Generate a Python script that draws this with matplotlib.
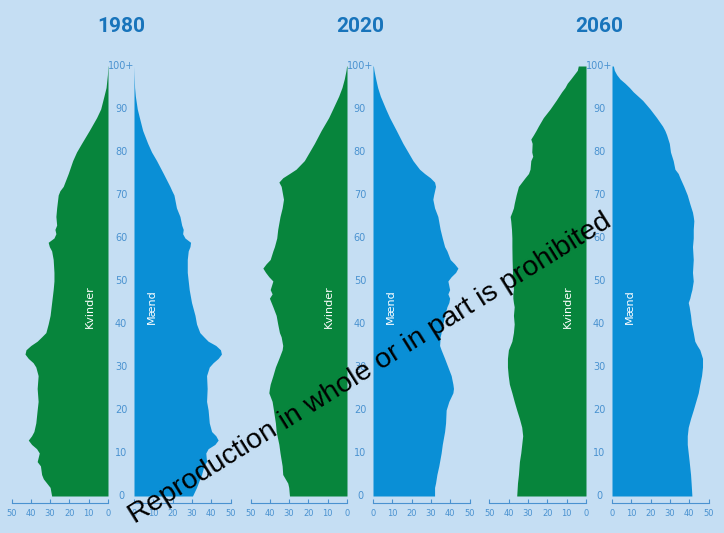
import numpy as np
import matplotlib.pyplot as plt

years = ["1980", "2020", "2060"]

ages_1980 = [0, 2, 4, 5, 7, 8, 10, 11, 12, 13, 14, 15, 17, 20, 22, 25, 28,
             30, 31, 32, 33, 34, 35, 36, 37, 38, 40, 42, 45, 48, 50, 52, 55, 57, 58, 59,
             60, 61, 62, 63, 65, 67, 70, 71, 72, 75, 78, 80, 82, 85, 88, 90, 93, 95, 98, 100]
women_1980 = [29.2, 30.0, 33.5, 34.4, 35.0, 36.7, 35.6, 37.0, 39.6, 41.3, 39.6, 38.4, 37.4,
              36.7, 36.2, 36.7, 36.2, 37.4, 38.8, 41.3, 43.0, 42.5, 40.0, 36.7, 34.4, 32.2,
              31.0, 30.0, 29.2, 28.4, 28.0, 28.0, 28.4, 29.2, 30.4, 31.0, 28.0, 27.0, 27.5,
              26.6, 27.0, 26.6, 25.8, 24.9, 23.2, 20.6, 18.3, 16.3, 13.7, 9.7, 5.9, 3.8, 2.1,
              1.0, 0.3, 0.1]
men_1980 = [30.3, 32.4, 34.1, 35.0, 36.2, 37.6, 37.2, 38.4, 41.9, 43.6, 42.4, 40.2, 39.0,
            38.4, 37.6, 37.9, 37.6, 39.0, 41.0, 43.6, 45.3, 44.8, 42.4, 38.4, 36.2, 34.1,
            32.4, 31.6, 29.8, 28.6, 28.1, 27.6, 27.6, 28.1, 29.0, 29.3, 26.4, 25.2, 25.5,
            24.7, 23.8, 22.0, 20.7, 19.6, 18.6, 15.2, 11.7, 9.1, 7.1, 4.5, 2.8, 1.7, 0.7,
            0.3, 0.1, 0.0]

ages_2020 = [0, 2, 3, 5, 7, 10, 12, 15, 17, 20, 22, 24, 25, 26, 28, 30, 32, 34, 35, 37, 38,
             40, 42, 44, 45, 46, 47, 48, 50, 51, 52, 53, 54, 55, 57, 58, 60, 62, 65, 67, 69,
             70, 72, 73, 74, 75, 76, 78, 80, 82, 85, 88, 90, 93, 95, 97, 99, 100]
women_2020 = [29.8, 30.2, 30.7, 33.3, 33.6, 34.7, 35.3, 36.7, 37.1, 38.1, 38.8, 40.5, 40.2,
              39.8, 38.4, 37.1, 35.3, 33.6, 33.3, 34.1, 35.0, 35.9, 36.7, 38.4, 39.3, 40.2,
              38.8, 39.8, 38.4, 40.5, 42.2, 43.6, 41.9, 39.8, 38.4, 37.6, 36.4, 35.9, 34.7,
              33.6, 32.9, 33.3, 34.1, 35.3, 33.3, 29.8, 26.4, 22.1, 19.5, 16.9, 13.4, 9.5,
              7.4, 4.3, 2.6, 1.4, 0.5, 0.2]
men_2020 = [31.9, 31.9, 32.4, 33.1, 34.1, 35.3, 35.9, 37.1, 37.6, 37.9, 39.3, 41.4, 41.7,
            41.4, 40.5, 38.8, 37.1, 35.3, 34.5, 34.8, 35.3, 36.2, 37.1, 38.3, 39.3, 39.7,
            38.8, 39.7, 38.8, 40.5, 42.8, 44.0, 42.2, 40.0, 38.3, 37.1, 35.9, 34.8, 33.6,
            31.9, 31.0, 31.4, 32.4, 31.9, 29.7, 26.7, 24.1, 20.7, 18.1, 15.5, 12.1, 8.6,
            6.6, 3.8, 2.4, 1.4, 0.5, 0.2]

ages_2060 = [0, 3, 5, 8, 10, 12, 14, 16, 18, 20, 22, 24, 26, 28, 30, 32, 34, 35, 36, 38,
             40, 42, 44, 45, 46, 47, 48, 50, 52, 55, 58, 60, 62, 64, 65, 66, 67, 68,
             70, 72, 74, 75, 76, 78, 79, 80, 82, 83, 84, 85, 86, 88,
             90, 92, 94, 95, 96, 97, 98, 99, 100]
women_2060 = [35.9, 35.5, 35.0, 34.5, 33.8, 33.3, 32.8, 33.3, 34.5, 35.9, 37.2, 38.4, 39.7,
              40.3, 40.7, 40.7, 40.2, 39.3, 38.4, 37.6, 37.2, 37.6, 37.2, 37.6, 37.9, 37.9,
              37.6, 37.9, 38.1, 38.3, 38.4, 38.4, 38.6, 39.0, 39.3, 38.4, 37.6, 37.2, 36.2,
              35.0, 31.6, 29.8, 29.0, 28.6, 27.6, 28.1, 27.9, 28.6, 27.2, 25.9, 24.7, 22.1,
              18.6, 15.5, 12.6, 10.9, 9.7, 7.9, 6.2, 4.5, 4.0]
men_2060 = [41.4, 41.0, 40.7, 40.0, 39.5, 39.0, 39.0, 39.5, 40.7, 42.1, 43.4, 44.7, 45.5,
            46.4, 46.9, 46.9, 45.5, 44.1, 42.9, 42.1, 41.2, 40.7, 40.0, 39.5, 40.3, 40.8,
            41.4, 42.1, 41.7, 42.1, 41.7, 42.1, 42.1, 42.4, 42.1, 41.7, 41.0, 40.3, 39.0,
            37.2, 35.2, 34.3, 32.6, 31.7, 31.0, 30.3, 29.7, 29.0, 28.3, 27.4, 26.2, 23.1,
            19.7, 15.9, 11.0, 9.0, 6.7, 4.1, 2.4, 1.2, 0.7]

age_ticks = [0, 10, 20, 30, 40, 50, 60, 70, 80, 90, 100]
age_labels = ["0", "10", "20", "30", "40", "50", "60", "70", "80", "90", "100+"]
x_ticks = [0, 10, 20, 30, 40, 50]

pyramids = [(ages_1980, women_1980, men_1980),
            (ages_2020, women_2020, men_2020),
            (ages_2060, women_2060, men_2060)]

BG = "#c5def3"
GREEN = "#07853c"
BLUE = "#0a8fd6"
AXC = "#4a92d0"
TITLE = "#1874bb"

W, H = 724, 533
fig = plt.figure(figsize=(W / 100, H / 100), dpi=100, facecolor=BG)

bottom = (H - 496) / H
height = 430 / H
side_w = 96.5 / W


def style_side(ax):
    ax.set_facecolor("none")
    for s in ["top", "left", "right"]:
        ax.spines[s].set_visible(False)
    ax.spines["bottom"].set_position(("outward", 5))
    ax.spines["bottom"].set_color(AXC)
    ax.spines["bottom"].set_linewidth(0.8)
    ax.set_xticks(x_ticks)
    ax.set_yticks([])
    ax.tick_params(axis="x", direction="in", length=3, width=0.8, color=AXC,
                   labelsize=6, labelcolor=AXC, pad=4)
    ax.set_ylim(0, 100)


for i, (year, (ages, women, men)) in enumerate(zip(years, pyramids)):
    off = 239 * i
    axw = fig.add_axes([(11.5 + off) / W, bottom, side_w, height])
    axm = fig.add_axes([(134 + off) / W, bottom, side_w, height])
    axc = fig.add_axes([(108 + off) / W, bottom, 26 / W, height])

    axw.fill_betweenx(ages, 0, women, color=GREEN, lw=0)
    axw.set_xlim(50, 0)
    style_side(axw)
    axw.text(9.3, 44, "Kvinder", rotation=90, color="white", fontsize=8,
             ha="center", va="center")

    axm.fill_betweenx(ages, 0, men, color=BLUE, lw=0)
    axm.set_xlim(0, 50)
    style_side(axm)
    axm.text(9.2, 44, "Mænd", rotation=90, color="white", fontsize=8,
             ha="center", va="center")

    axc.set_xlim(0, 1)
    axc.set_ylim(0, 100)
    axc.axis("off")
    for a, lab in zip(age_ticks, age_labels):
        axc.text(0.5, a, lab, ha="center", va="center", fontsize=7, color=AXC)

    fig.text((121 + off) / W, 1 - 27 / H, year, ha="center", va="center",
             fontsize=15, fontweight="bold", family=["Roboto", "DejaVu Sans"], color=TITLE)

fig.text(370 / W, 1 - 369 / H, "Reproduction in whole or in part is prohibited",
         rotation=32, rotation_mode="anchor", ha="center", va="center",
         fontsize=20.5, family=["Liberation Sans", "DejaVu Sans"], color="black")

fig.savefig("out.png", dpi=100, facecolor=BG)
